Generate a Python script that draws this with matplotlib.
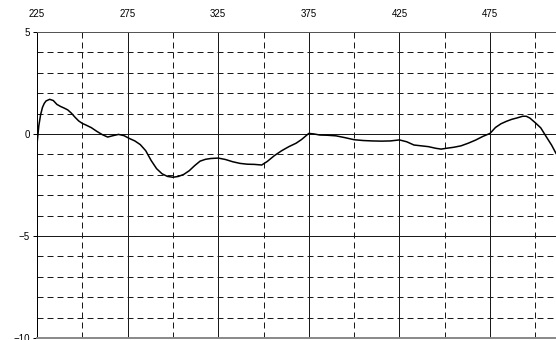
import matplotlib
matplotlib.use("Agg")
import matplotlib.pyplot as plt
from matplotlib.ticker import MultipleLocator, FixedLocator

plt.rcParams['font.family'] = ['Liberation Sans', 'DejaVu Sans']

# wavelength (nm) and signal
wavelength = [225, 226, 227, 228, 229, 230, 232, 234, 236, 238, 240, 242, 244, 246,
              248, 250, 252, 255, 258, 261, 264, 267, 270, 273, 276, 279, 282, 285,
              288, 291, 294, 297, 300, 303, 306, 309, 312, 315, 318, 321, 325, 329,
              333, 337, 341, 345, 349, 352, 356, 360, 364, 368, 371, 375, 378, 381,
              385, 390, 395, 400, 405, 410, 415, 420, 425, 429, 433, 437, 441, 445,
              448, 451, 455, 459, 463, 467, 471, 475, 478, 481, 484, 487, 490, 493,
              495, 497, 500, 503, 506, 509, 511.4]
signal = [-0.5, 0.4, 0.95, 1.3, 1.5, 1.62, 1.70, 1.64, 1.45, 1.35, 1.27, 1.18, 1.02, 0.82,
          0.64, 0.52, 0.44, 0.31, 0.13, -0.03, -0.15, -0.08, -0.02, -0.08, -0.22, -0.34,
          -0.52, -0.82, -1.30, -1.70, -1.95, -2.08, -2.12, -2.08, -1.98, -1.80, -1.55,
          -1.33, -1.24, -1.20, -1.18, -1.25, -1.36, -1.44, -1.48, -1.49, -1.52, -1.35,
          -1.06, -0.82, -0.62, -0.45, -0.27, 0.03, 0.0, -0.05, -0.06, -0.09, -0.18,
          -0.28, -0.32, -0.34, -0.35, -0.34, -0.29, -0.38, -0.54, -0.58, -0.62, -0.70,
          -0.74, -0.70, -0.65, -0.58, -0.45, -0.30, -0.12, 0.03, 0.32, 0.50, 0.62, 0.72,
          0.79, 0.87, 0.87, 0.78, 0.55, 0.30, -0.13, -0.55, -0.95]

x_major = [225, 275, 325, 375, 425, 475]
x_minor = [250, 300, 350, 400, 450, 500]
y_major = [-10, -5, 0, 5]

fig = plt.figure(figsize=(5.56, 3.40), dpi=100)
ax = fig.add_axes([37 / 556, 2 / 340, 519 / 556, 306 / 340])

ax.set_xlim(225, 511.4)
ax.set_ylim(-10, 5)

ax.xaxis.set_major_locator(FixedLocator(x_major))
ax.xaxis.set_minor_locator(FixedLocator(x_minor))
ax.yaxis.set_major_locator(FixedLocator(y_major))
ax.yaxis.set_minor_locator(MultipleLocator(1))

ax.xaxis.tick_top()
ax.tick_params(axis='x', which='both', length=0, pad=9.5, labelsize=7)
ax.tick_params(axis='y', which='major', length=3, width=0.72, pad=2, labelsize=7)
ax.tick_params(axis='y', which='minor', length=0)

px = 0.72
ax.grid(True, which='major', color='#1a1a1a', linewidth=px, linestyle='-')
ax.grid(True, which='minor', color='#1a1a1a', linewidth=px, linestyle=(0, (6, 4)))
ax.set_axisbelow(True)

for side in ('right',):
    ax.spines[side].set_visible(False)
ax.spines['left'].set_linewidth(px)
ax.spines['left'].set_color('black')
ax.spines['top'].set_linewidth(px)
ax.spines['top'].set_color('#555555')
ax.spines['bottom'].set_linewidth(1.4)
ax.spines['bottom'].set_color('#888888')

ax.plot(wavelength, signal, color='black', linewidth=1.1, solid_joinstyle='round',
        clip_on=True)

fig.savefig('out.png', dpi=100)
